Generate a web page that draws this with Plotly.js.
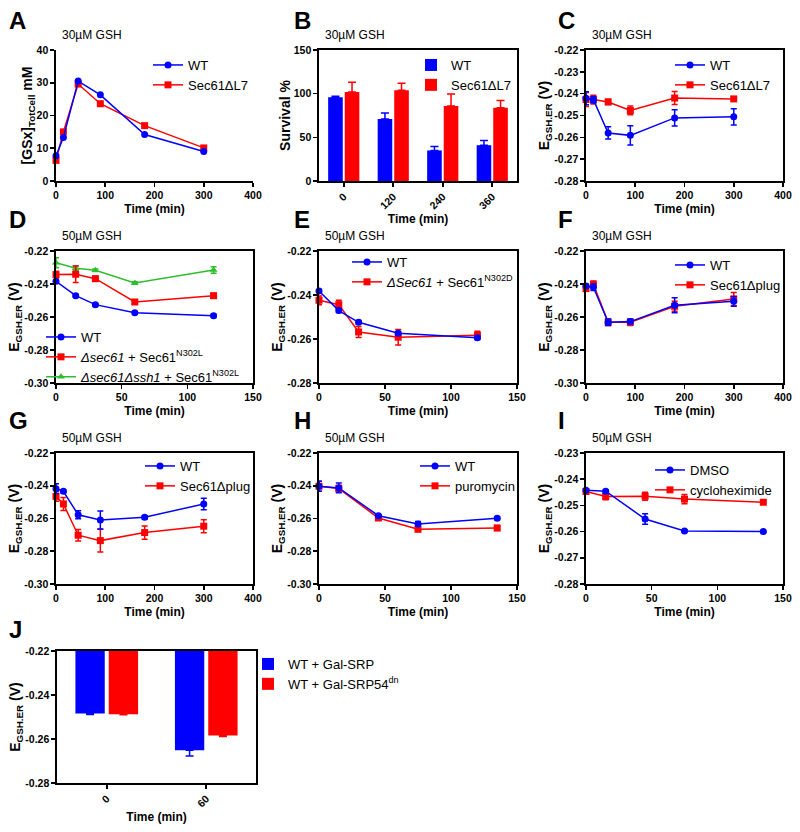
<!DOCTYPE html>
<html>
<head>
<meta charset="utf-8">
<script src="https://cdn.plot.ly/plotly-3.0.1.min.js"></script>
<style>
  html, body { margin: 0; padding: 0; background: #fff; }
  #fig { width: 800px; height: 832px; }
</style>
</head>
<body>
<div id="fig"></div>
<script>
// ---- data ----
const timeLong = [0, 15, 45, 90, 180, 300];
const timeShort = [0, 15, 30, 60, 120];
const timeDrug = [0, 15, 45, 75, 135];

// A: [GSx] total cell, 30uM GSH
const gsxWT = [7.7, 13.3, 30.5, 26.3, 14.2, 9.0];
const gsxL7 = [6.3, 15.0, 29.6, 23.6, 16.9, 10.1];

// B: survival
const survCats = ['0', '120', '240', '360'];
const survWT = [96, 71, 35, 41];
const survWTErr = [1, 7, 4.5, 5.3];
const survL7 = [102, 104, 86, 84];
const survL7Err = [11, 8, 13.7, 8.3];

// C: E_GSH,ER 30uM GSH
const cWT = [-0.2421, -0.2428, -0.2580, -0.2591, -0.2511, -0.2506];
const cWTErr = [0.003, 0.0015, 0.0028, 0.0044, 0.0037, 0.0037];
const cL7 = [-0.2427, -0.2427, -0.2438, -0.2477, -0.2420, -0.2424];
const cL7Err = [0.0032, 0.002, 0.0012, 0.002, 0.003, 0.0008];

// D
const dWT = [-0.2384, -0.2471, -0.2525, -0.2574, -0.2592];
const dWTErr = [0.0008, 0.0008, 0.0008, 0.0008, 0.0008];
const dN302L = [-0.2343, -0.2341, -0.2368, -0.2509, -0.2471];
const dN302LErr = [0.002, 0.005, 0.0015, 0.001, 0.0015];
const dSsh1 = [-0.2271, -0.2305, -0.2317, -0.2394, -0.2315];
const dSsh1Err = [0.003, 0.0015, 0.0008, 0.0008, 0.002];

// E
const eWT = [-0.2382, -0.2471, -0.2524, -0.2574, -0.2594];
const eWTErr = [0.0008, 0.0008, 0.0008, 0.0008, 0.0008];
const eN302D = [-0.2424, -0.2444, -0.2568, -0.2592, -0.2583];
const eN302DErr = [0.002, 0.002, 0.0025, 0.0035, 0.0018];

// F
const fWT = [-0.2412, -0.2420, -0.2632, -0.2628, -0.2529, -0.2505];
const fWTErr = [0.001, 0.002, 0.002, 0.0015, 0.0045, 0.003];
const fPlug = [-0.2428, -0.2402, -0.2632, -0.2632, -0.2535, -0.2491];
const fPlugErr = [0.001, 0.002, 0.002, 0.002, 0.003, 0.004];

// G
const gWT = [-0.2418, -0.2434, -0.2577, -0.2609, -0.2593, -0.2511];
const gWTErr = [0.003, 0.001, 0.0025, 0.0055, 0.001, 0.0035];
const gPlug = [-0.2465, -0.2511, -0.2702, -0.2735, -0.2686, -0.2647];
const gPlugErr = [0.003, 0.004, 0.0035, 0.007, 0.004, 0.004];

// H
const hWT = [-0.2403, -0.2413, -0.2583, -0.2633, -0.2599];
const hWTErr = [0.003, 0.003, 0.0008, 0.0015, 0.0008];
const hPuro = [-0.2403, -0.2417, -0.2597, -0.2666, -0.2658];
const hPuroErr = [0.003, 0.002, 0.0008, 0.001, 0.0015];

// I
const iDMSO = [-0.2442, -0.2446, -0.2552, -0.2598, -0.2600];
const iDMSOErr = [0.0005, 0.0005, 0.002, 0.0004, 0.0004];
const iChx = [-0.2447, -0.2466, -0.2465, -0.2476, -0.2488];
const iChxErr = [0.0005, 0.0012, 0.0015, 0.0018, 0.0005];

// J
const jCats = ['0', '60'];
const jSRP = [-0.2484, -0.2651];
const jSRPErr = [0.0005, 0.0026];
const jSRP54 = [-0.2487, -0.2584];
const jSRP54Err = [0.0003, 0.0005];

// tick values
const yTicksA = [0, 10, 20, 30, 40];
const yTicksB = [0, 50, 100, 150];
const yTicksC = [-0.28, -0.27, -0.26, -0.25, -0.24, -0.23, -0.22];
const yTicks30 = [-0.30, -0.28, -0.26, -0.24, -0.22];
const yTicks28 = [-0.28, -0.26, -0.24, -0.22];
const yTicksI = [-0.28, -0.27, -0.26, -0.25, -0.24, -0.23];

const BLUE = '#0000ff';
const RED = '#ff0000';
const GREEN = '#2dbe2d';
const FONT = 'Arial, "Liberation Sans", sans-serif';

// ---- helpers ----
const W = 800, H = 832;
const px = v => v / W;
const py = v => 1 - v / H;
const xdom = (a, b) => [a / W, b / W];
const ydom = (top, bot) => [1 - bot / H, 1 - top / H];

function lineTrace(x, y, err, name, color, symbol, n, legendrank) {
    const sfx = n === 1 ? '' : n;
    return {
        x, y, name, type: 'scatter', mode: 'lines+markers',
        xaxis: 'x' + sfx, yaxis: 'y' + sfx, legend: 'legend' + sfx, legendrank,
        line: { color, width: 1.5 },
        marker: { color, symbol, size: 7 },
        error_y: err ? { type: 'data', array: err, visible: true, color, thickness: 1.5, width: 3 } : undefined,
        cliponaxis: false
    };
}

function barTrace(x, y, err, up, name, color, n) {
    const zeros = err.map(() => 0);
    return {
        x, y, name, type: 'bar',
        xaxis: 'x' + n, yaxis: 'y' + n, legend: 'legend' + n,
        marker: { color, line: { width: 0 } },
        error_y: {
            type: 'data', symmetric: false, visible: true, color, thickness: 1.5, width: 4,
            array: up ? err : zeros, arrayminus: up ? zeros : err
        }
    };
}

const traces = [
    // A
    lineTrace(timeLong, gsxL7, null, 'Sec61\u0394L7', RED, 'square', 1, 2),
    lineTrace(timeLong, gsxWT, null, 'WT', BLUE, 'circle', 1, 1),
    // B
    barTrace(survCats, survWT, survWTErr, true, 'WT', BLUE, 2),
    barTrace(survCats, survL7, survL7Err, true, 'Sec61\u0394L7', RED, 2),
    // C
    lineTrace(timeLong, cL7, cL7Err, 'Sec61\u0394L7', RED, 'square', 3, 2),
    lineTrace(timeLong, cWT, cWTErr, 'WT', BLUE, 'circle', 3, 1),
    // D
    lineTrace(timeShort, dSsh1, dSsh1Err, '<i>\u0394sec61\u0394ssh1</i> + Sec61<sup>N302L</sup>', GREEN, 'triangle-up', 4, 3),
    lineTrace(timeShort, dN302L, dN302LErr, '<i>\u0394sec61</i> + Sec61<sup>N302L</sup>', RED, 'square', 4, 2),
    lineTrace(timeShort, dWT, dWTErr, 'WT', BLUE, 'circle', 4, 1),
    // E
    lineTrace(timeShort, eN302D, eN302DErr, '<i>\u0394Sec61</i> + Sec61<sup>N302D</sup>', RED, 'square', 5, 2),
    lineTrace(timeShort, eWT, eWTErr, 'WT', BLUE, 'circle', 5, 1),
    // F
    lineTrace(timeLong, fPlug, fPlugErr, 'Sec61\u0394plug', RED, 'square', 6, 2),
    lineTrace(timeLong, fWT, fWTErr, 'WT', BLUE, 'circle', 6, 1),
    // G
    lineTrace(timeLong, gPlug, gPlugErr, 'Sec61\u0394plug', RED, 'square', 7, 2),
    lineTrace(timeLong, gWT, gWTErr, 'WT', BLUE, 'circle', 7, 1),
    // H
    lineTrace(timeDrug, hPuro, hPuroErr, 'puromycin', RED, 'square', 8, 2),
    lineTrace(timeDrug, hWT, hWTErr, 'WT', BLUE, 'circle', 8, 1),
    // I
    lineTrace(timeDrug, iChx, iChxErr, 'cycloheximide', RED, 'square', 9, 2),
    lineTrace(timeDrug, iDMSO, iDMSOErr, 'DMSO', BLUE, 'circle', 9, 1),
    // J
    barTrace(jCats, jSRP, jSRPErr, false, 'WT + Gal-SRP', BLUE, 10),
    barTrace(jCats, jSRP54, jSRP54Err, false, 'WT + Gal-SRP54<sup>dn</sup>', RED, 10)
];

// ---- axes ----
const tickFont = { family: FONT, size: 10.5, color: '#000', weight: 'bold' };
const titleFont = { family: FONT, size: 12, color: '#000', weight: 'bold' };
const yTitleFont = { family: FONT, size: 14, color: '#000', weight: 'bold' };
const timeTitle = { text: 'Time (min)', font: titleFont, standoff: 4 };
const eTitle = { text: 'E<sub>GSH.ER</sub> (V)', font: yTitleFont, standoff: 0 };

function xAxis(domain, range, dtick, mirror) {
    return {
        domain, range, dtick, tick0: 0,
        showline: true, linecolor: '#000', linewidth: 1.6, mirror,
        ticks: 'outside', ticklen: 4, tickwidth: 1.6, tickcolor: '#000',
        showgrid: false, zeroline: false, tickfont: tickFont, title: timeTitle
    };
}

function catAxis(domain) {
    return {
        domain, type: 'category', tickangle: -45,
        showline: true, linecolor: '#000', linewidth: 1.6, mirror: true,
        ticks: 'outside', ticklen: 4, tickwidth: 1.6, tickcolor: '#000',
        showgrid: false, zeroline: false, tickfont: tickFont, title: timeTitle
    };
}

function yAxis(domain, range, ticks, digits, title, mirror) {
    return {
        domain, range, tickmode: 'array', tickvals: ticks,
        ticktext: ticks.map(v => v.toFixed(digits)),
        showline: true, linecolor: '#000', linewidth: 1.6, mirror,
        ticks: 'outside', ticklen: 4, tickwidth: 1.6, tickcolor: '#000',
        showgrid: false, zeroline: false, tickfont: tickFont, title
    };
}

const colL = xdom(56, 253), colM = xdom(319, 517), colR = xdom(586, 783);
const row1 = ydom(50, 181), row2 = ydom(251, 383), row3 = ydom(453, 584), row4 = ydom(651, 783);

const layout = {
    width: W, height: H,
    margin: { l: 0, r: 0, t: 0, b: 0, autoexpand: false },
    paper_bgcolor: '#fff', plot_bgcolor: 'rgba(0,0,0,0)',
    font: { family: FONT, color: '#000' },
    barmode: 'group',
    bargap: 0.33, bargroupgap: 0.12,
    xaxis: xAxis(colL, [0, 400], 100, false),
    yaxis: yAxis(row1, [0, 40], yTicksA, 0,
        { text: '[GSx]<sub>TotCell</sub> mM', font: yTitleFont, standoff: 0 }, false),
    xaxis2: catAxis(colM),
    yaxis2: yAxis(row1, [0, 150], yTicksB, 0,
        { text: 'Survival %', font: yTitleFont, standoff: 0 }, true),
    xaxis3: xAxis(colR, [0, 400], 100, true),
    yaxis3: yAxis(row1, [-0.28, -0.22], yTicksC, 2, eTitle, true),
    xaxis4: xAxis(colL, [0, 150], 50, true),
    yaxis4: yAxis(row2, [-0.30, -0.22], yTicks30, 2, eTitle, true),
    xaxis5: xAxis(colM, [0, 150], 50, true),
    yaxis5: yAxis(row2, [-0.28, -0.22], yTicks28, 2, eTitle, true),
    xaxis6: xAxis(colR, [0, 400], 100, true),
    yaxis6: yAxis(row2, [-0.30, -0.22], yTicks30, 2, eTitle, true),
    xaxis7: xAxis(colL, [0, 400], 100, true),
    yaxis7: yAxis(row3, [-0.30, -0.22], yTicks30, 2, eTitle, true),
    xaxis8: xAxis(colM, [0, 150], 50, true),
    yaxis8: yAxis(row3, [-0.30, -0.22], yTicks30, 2, eTitle, true),
    xaxis9: xAxis(colR, [0, 150], 50, true),
    yaxis9: yAxis(row3, [-0.28, -0.23], yTicksI, 2, eTitle, true),
    xaxis10: catAxis(xdom(57, 256)),
    yaxis10: yAxis(row4, [-0.28, -0.22], yTicks28, 2, eTitle, true),
    annotations: [],
    showlegend: true
};

// anchor axes to each other
for (let i = 1; i <= 10; i++) {
    const s = i === 1 ? '' : i;
    layout['xaxis' + s].anchor = 'y' + s;
    layout['yaxis' + s].anchor = 'x' + s;
}

// legends
const legFont = { family: FONT, size: 13, color: '#000' };
function legend(textX, firstY) {
    return {
        x: px(textX - 42), y: py(firstY - 10), xanchor: 'left', yanchor: 'top',
        bgcolor: 'rgba(0,0,0,0)', borderwidth: 0, font: legFont, traceorder: 'normal'
    };
}
layout.legend = legend(190, 60);
layout.legend2 = legend(453, 60);
layout.legend3 = legend(712, 60);
layout.legend4 = legend(83, 332);
layout.legend5 = legend(389, 257);
layout.legend6 = legend(712, 260);
layout.legend7 = legend(182, 461);
layout.legend8 = legend(457, 461);
layout.legend9 = legend(692, 465);
layout.legend10 = legend(290, 659);

// panel letters and concentration labels
const letters = [['A', 7, 20], ['B', 292, 20], ['C', 556, 20],
                 ['D', 7, 220], ['E', 292, 220], ['F', 556, 220],
                 ['G', 7, 420], ['H', 292, 420], ['I', 556, 420],
                 ['J', 7, 629]];
letters.forEach(([t, x, y]) => layout.annotations.push({
    text: t, xref: 'paper', yref: 'paper', x: px(x), y: py(y),
    xanchor: 'left', yanchor: 'middle', showarrow: false,
    font: { family: FONT, size: 24, color: '#000', weight: 'bold' }
}));

const concs = ['30\u00b5M GSH', '30\u00b5M GSH', '30\u00b5M GSH', '50\u00b5M GSH', '50\u00b5M GSH',
               '30\u00b5M GSH', '50\u00b5M GSH', '50\u00b5M GSH', '50\u00b5M GSH'];
concs.forEach((t, i) => {
    const s = i === 0 ? '' : i + 1;
    layout.annotations.push({
        text: t, xref: 'x' + s + ' domain', yref: 'y' + s + ' domain', x: 0.02, y: 1,
        yshift: 6, xanchor: 'left', yanchor: 'bottom', showarrow: false,
        font: { family: FONT, size: 12, color: '#000' }
    });
});

Plotly.newPlot('fig', traces, layout, { staticPlot: true });
</script>
</body>
</html>
